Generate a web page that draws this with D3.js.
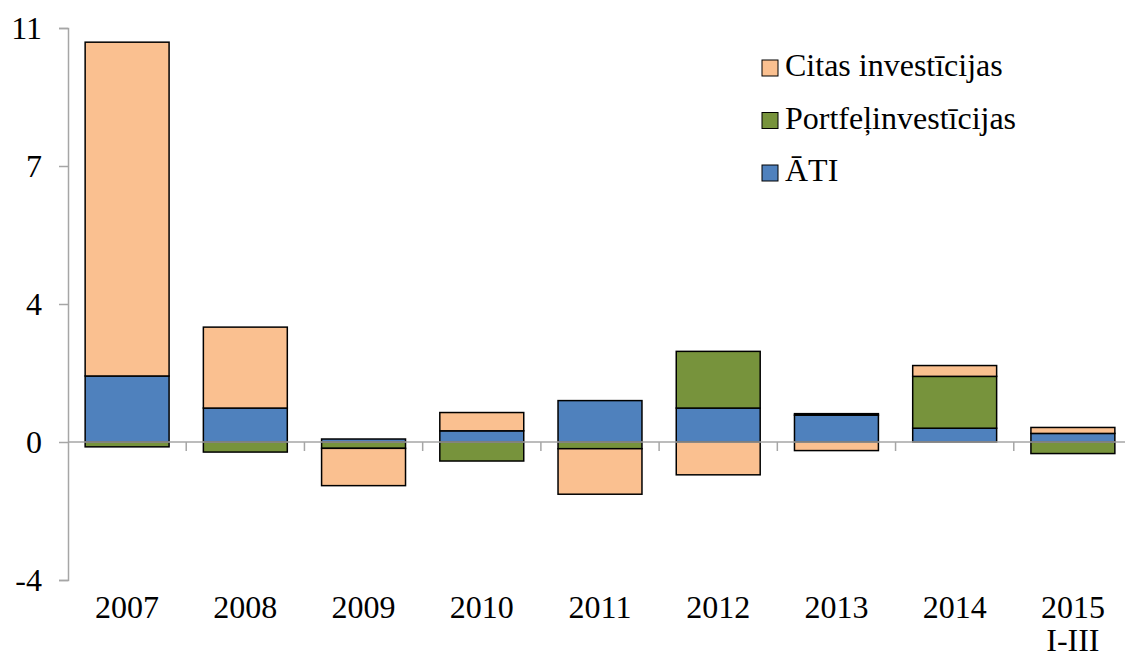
<!DOCTYPE html>
<html>
<head>
<meta charset="utf-8">
<script src="https://cdn.jsdelivr.net/npm/d3@7"></script>
<style>
  body { margin: 0; background: #fff; }
  text { font-family: "Liberation Serif", "Times New Roman", serif; fill: #000; }
</style>
</head>
<body>
<svg id="chart" width="1125" height="657"></svg>
<script>
// Categories (years) and the second label line
var years = ['2007', '2008', '2009', '2010', '2011', '2012', '2013', '2014', '2015'];
var subLabels = ['', '', '', '', '', '', '', '', 'I-III'];

// Series values
var ati = [1.77, 0.91, 0.08, 0.30, 1.11, 0.91, 0.72, 0.37, 0.23];
var portfelis = [-0.13, -0.27, -0.17, -0.51, -0.18, 1.52, 0.04, 1.39, -0.31];
var citas = [8.95, 2.17, -1.00, 0.49, -1.22, -0.88, -0.23, 0.29, 0.16];

// Tick values (axis runs in steps of 3.7, labels rounded)
var yTicks = [-3.7, 0, 3.7, 7.4, 11.1];

var seriesNames = ['ĀTI', 'Portfeļinvestīcijas', 'Citas investīcijas'];
var seriesKeys = ['ati', 'port', 'citas'];
var colors = {ati: '#4F81BD', port: '#77933C', citas: '#FAC090'};

var rows = years.map(function(y, i) {
  return {year: y, ati: ati[i], port: portfelis[i], citas: citas[i]};
});

var svg = d3.select('#chart');

var scaleX = d3.scaleBand()
  .domain(years)
  .range([68, 1132])
  .paddingInner(0.29)
  .paddingOuter(0.145);
var scaleY = d3.scaleLinear()
  .domain([-3.7, 11.1])
  .range([580, 28]);

var stacked = d3.stack()
  .keys(seriesKeys)
  .offset(d3.stackOffsetDiverging)(rows);

// Bars
var layers = svg.append('g').selectAll('g')
  .data(stacked)
  .enter().append('g')
  .attr('fill', function(d) { return colors[d.key]; });

layers.selectAll('rect')
  .data(function(d) { return d; })
  .enter().append('rect')
  .attr('x', function(d) { return scaleX(d.data.year); })
  .attr('width', scaleX.bandwidth())
  .attr('y', function(d) { return scaleY(Math.max(d[0], d[1])); })
  .attr('height', function(d) { return Math.abs(scaleY(d[0]) - scaleY(d[1])); })
  .attr('stroke', '#000')
  .attr('stroke-width', 1.5);

// Y axis
var axisY = d3.axisLeft(scaleY)
  .tickValues(yTicks)
  .tickSize(9)
  .tickPadding(17)
  .tickFormat(function(d) { return String(Math.round(d)); });
var gy = svg.append('g')
  .attr('transform', 'translate(68,0)')
  .call(axisY);
gy.select('.domain').attr('stroke', '#a6a6a6').attr('stroke-width', 1.5);
gy.selectAll('.tick line').attr('stroke', '#a6a6a6').attr('stroke-width', 1.5);
gy.selectAll('.tick text')
  .style('font-size', '32px')
  .style('font-family', '"Liberation Serif", serif')
  .attr('dy', '0.34em');

// X axis on the zero line, ticks between categories
var y0 = scaleY(0);
var step = scaleX.step();
var boundaries = d3.range(1, years.length).map(function(i) { return 68 + i * step; });
var gx = svg.append('g');
gx.append('line')
  .attr('x1', 68).attr('x2', 1132)
  .attr('y1', y0).attr('y2', y0)
  .attr('stroke', '#a6a6a6').attr('stroke-width', 1.5);
gx.selectAll('.xt')
  .data(boundaries)
  .enter().append('line')
  .attr('class', 'xt')
  .attr('x1', function(d) { return d; }).attr('x2', function(d) { return d; })
  .attr('y1', y0).attr('y2', y0 + 9)
  .attr('stroke', '#a6a6a6').attr('stroke-width', 1.5);

// Category labels under the plot
var labels = svg.append('g').selectAll('text')
  .data(years)
  .enter().append('text')
  .attr('text-anchor', 'middle')
  .attr('x', function(d) { return scaleX(d) + scaleX.bandwidth() / 2; })
  .attr('y', 618)
  .style('font-size', '32px');
labels.append('tspan').text(function(d) { return d; });
labels.append('tspan')
  .attr('x', function(d) { return scaleX(d) + scaleX.bandwidth() / 2; })
  .attr('dy', 33)
  .text(function(d, i) { return subLabels[i]; });

// Legend
var legendOrder = ['citas', 'port', 'ati'];
var legendText = {citas: seriesNames[2], port: seriesNames[1], ati: seriesNames[0]};
var legend = svg.append('g').selectAll('g')
  .data(legendOrder)
  .enter().append('g')
  .attr('transform', function(d, i) { return 'translate(762,' + (60 + i * 52.5) + ')'; });
legend.append('rect')
  .attr('width', 16).attr('height', 16)
  .attr('fill', function(d) { return colors[d]; })
  .attr('stroke', '#000').attr('stroke-width', 1);
legend.append('text')
  .attr('x', 23).attr('y', 16)
  .style('font-size', '32px')
  .text(function(d) { return legendText[d]; });
</script>
</body>
</html>
